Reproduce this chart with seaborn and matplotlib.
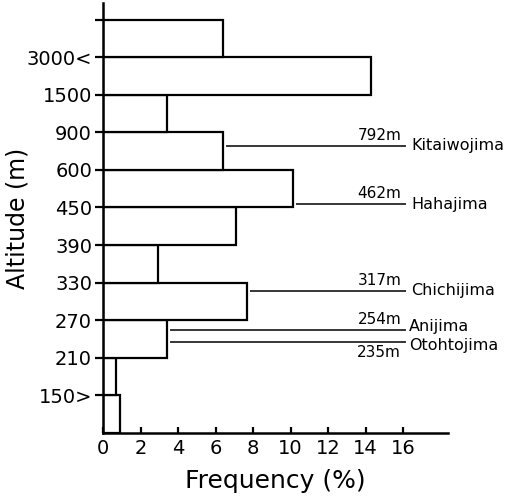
import numpy as np
import pandas as pd
import seaborn as sns
import matplotlib.pyplot as plt

# altitude classes, bottom to top
classes = ["<150", "150-210", "210-270", "270-330", "330-390", "390-450",
           "450-600", "600-900", "900-1500", "1500-3000", ">3000"]
freq = [0.9, 0.7, 3.4, 7.7, 2.9, 7.1, 10.15, 6.4, 3.4, 14.3, 6.4]

# labels drawn at the class boundaries
edge_labels = ["150>", "210", "270", "330", "390", "450", "600", "900", "1500", "3000<"]
edge_values = [0, 150, 210, 270, 330, 390, 450, 600, 900, 1500, 3000]

# summits of the islands
islands = ["Kitaiwojima", "Hahajima", "Chichijima", "Anijima", "Otohtojima"]
summits = [792, 462, 317, 254, 235]

df = pd.DataFrame({"cls": classes, "freq": freq})

sns.set_style("ticks", {"axes.edgecolor": "black", "text.color": "black",
                        "axes.labelcolor": "black", "xtick.color": "black",
                        "ytick.color": "black"})
plt.rcParams["font.family"] = ["DejaVu Sans"]

fig = plt.figure(figsize=(5.21, 5.0), dpi=100)
ax = fig.add_axes([0.198, 0.134, 0.662, 0.86])

sns.barplot(data=df, x="freq", y="cls", order=classes, orient="h",
            width=1, color="white", saturation=1, edgecolor="black",
            linewidth=1.6, ax=ax)

ax.set_ylim(-0.5, 10.94)
ax.set_xlim(0, 18.4)

ax.set_yticks(np.arange(len(classes)) + 0.5)
ax.set_yticklabels(edge_labels + [""])
ax.set_xticks(np.arange(0, 17, 2))
ax.tick_params(axis="y", direction="out", length=6, width=1.6, labelsize=14, pad=2)
ax.tick_params(axis="x", direction="in", length=4, width=1.6, labelsize=14, pad=4)

sns.despine(ax=ax)
for s in ["left", "bottom"]:
    ax.spines[s].set_linewidth(1.8)

ax.set_xlabel("Frequency (%)", fontsize=18, labelpad=8)
ax.set_ylabel("Altitude (m)", fontsize=17)
ax.yaxis.set_label_coords(-0.215, 0.5)

# position of each summit inside its class band
for name, alt in zip(islands, summits):
    k = np.searchsorted(edge_values, alt) - 1
    lo, hi = edge_values[k], edge_values[k + 1]
    y = k - 0.5 + (alt - lo) / (hi - lo)
    x0 = freq[k] + 0.15
    ax.plot([x0, 16.15], [y, y], color="black", lw=1.1, solid_capstyle="butt")
    if name == "Otohtojima":
        ax.text(15.9, y - 0.08, f"{alt}m", ha="right", va="top", fontsize=11)
        ax.text(16.3, y - 0.1, name, ha="left", va="center", fontsize=11.5)
    elif name == "Anijima":
        ax.text(15.9, y + 0.08, f"{alt}m", ha="right", va="bottom", fontsize=11)
        ax.text(16.3, y + 0.1, name, ha="left", va="center", fontsize=11.5)
    else:
        ax.text(15.9, y + 0.08, f"{alt}m", ha="right", va="bottom", fontsize=11)
        ax.text(16.45, y, name, ha="left", va="center", fontsize=11.5)

fig.savefig("out.png", dpi=100)
